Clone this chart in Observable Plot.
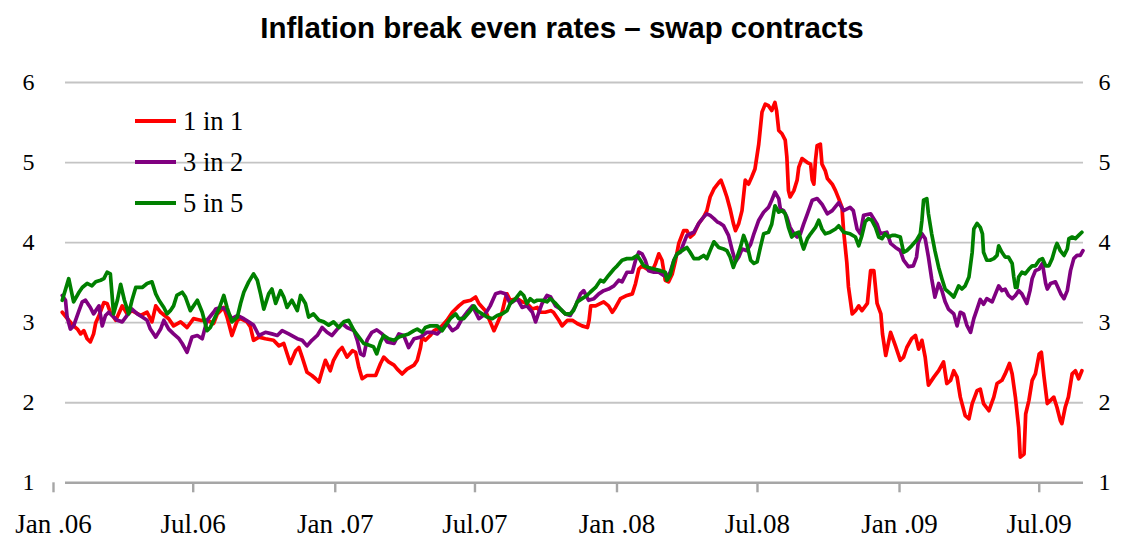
<!DOCTYPE html>
<html>
<head>
<meta charset="utf-8">
<script src="https://cdn.jsdelivr.net/npm/d3@7"></script>
<script src="https://cdn.jsdelivr.net/npm/@observablehq/plot@0.6"></script>
<style>
  html, body { margin: 0; padding: 0; background: #ffffff; }
  #wrap { position: relative; width: 1124px; height: 539px; overflow: hidden; }
  #title { height: 56px; display: flex; align-items: center; justify-content: center;
           font-family: "Liberation Sans", Arial, sans-serif; font-weight: bold; font-size: 29.5px; color: #000; }
  .leg { position: absolute; left: 135px; height: 30px; display: flex; align-items: center;
         font-family: "Liberation Serif", "Times New Roman", Times, "DejaVu Serif", serif; font-size: 26.5px; color: #000; }
  .leg span.sw { display: inline-block; width: 41px; height: 4px; margin-right: 7px; }
  #chart svg { display: block; overflow: visible; }
  #chart svg text { font-family: "Liberation Serif", "Times New Roman", Times, "DejaVu Serif", serif; }
</style>
</head>
<body>
<div id="wrap">
  <div id="title"></div>
  <div id="chart"></div>
  <div id="legend"></div>
</div>
<script>
// ---- data (week offset from 1 Jan 2006, value in %) ----
const titleText = "Inflation break even rates \u2013 swap contracts";
const seriesNames = ["1 in 1", "3 in 2", "5 in 5"];
const seriesColors = ["#ff0000", "#800080", "#008000"];
const yTicks = [1, 2, 3, 4, 5, 6];
const xTickDates = ["2006-01-01","2006-07-01","2007-01-01","2007-07-01","2008-01-01","2008-07-01","2009-01-01","2009-07-01"];
const xTickLabels = ["Jan .06","Jul.06","Jan .07","Jul.07","Jan .08","Jul.08","Jan .09","Jul.09"];
const startDate = "2006-01-01";
const endWeek = 188.4;

const oneInOne = [
[-0.6,3.13],[0.6,3.03],[1.5,2.96],[2.2,2.92],[2.8,2.86],[3.4,2.90],[4.0,2.80],[4.6,2.76],[5.2,2.86],[5.6,3.0],[6.2,3.09],[7.1,3.25],[7.7,3.24],[8.3,3.13],[9.3,3.03],[10.5,3.21],[11.4,3.11],[12.3,3.15],[13.9,3.09],[15.1,3.13],[16.0,3.01],[16.7,3.21],[17.6,3.13],[19.1,3.05],[20.0,2.96],[21.3,3.01],[22.5,2.94],[23.7,3.05],[25.0,3.03],[26.2,3.03],[27.4,2.99],[28.1,3.11],[29.3,3.19],[29.9,3.07],[30.8,2.84],[31.8,3.03],[32.4,3.05],[33.6,3.01],[34.2,2.95],[34.8,2.78],[35.8,2.82],[37.0,2.80],[38.5,2.78],[39.5,2.71],[40.4,2.74],[41.6,2.49],[42.6,2.65],[43.2,2.69],[43.8,2.57],[44.7,2.38],[45.6,2.34],[46.3,2.30],[46.9,2.26],[47.5,2.40],[48.1,2.53],[49.0,2.40],[49.6,2.53],[50.6,2.65],[51.2,2.69],[52.1,2.57],[53.1,2.65],[53.7,2.63],[54.3,2.44],[54.9,2.30],[55.8,2.34],[57.4,2.34],[58.3,2.49],[58.9,2.57],[59.8,2.51],[60.8,2.47],[61.4,2.42],[62.3,2.36],[63.2,2.42],[64.5,2.47],[65.1,2.53],[65.7,2.69],[66.0,2.82],[66.6,2.78],[67.5,2.84],[68.2,2.90],[69.4,2.94],[70.6,3.03],[71.6,3.13],[72.8,3.21],[73.7,3.26],[75.0,3.28],[75.9,3.32],[76.5,3.24],[77.7,3.15],[78.6,3.01],[79.3,2.90],[79.9,2.99],[80.8,3.13],[81.4,3.30],[81.7,3.36],[82.3,3.28],[83.6,3.30],[84.5,3.26],[85.4,3.24],[86.4,3.17],[87.3,3.19],[87.9,3.13],[88.8,3.13],[89.8,3.15],[90.3,3.13],[91.3,3.03],[91.9,2.96],[92.9,3.03],[93.8,3.03],[94.7,2.99],[95.6,2.96],[96.6,2.94],[96.9,3.03],[97.2,3.21],[98.1,3.21],[99.6,3.26],[100.5,3.21],[101.2,3.13],[101.8,3.19],[102.7,3.30],[103.9,3.34],[104.9,3.36],[105.5,3.49],[106.1,3.67],[106.7,3.71],[107.6,3.67],[108.6,3.65],[109.2,3.74],[109.8,3.86],[110.4,3.78],[111.0,3.53],[111.6,3.51],[112.3,3.61],[112.9,3.78],[113.5,3.99],[114.4,4.15],[115.0,4.15],[115.6,4.07],[116.3,4.11],[117.2,4.24],[118.1,4.32],[118.7,4.40],[119.3,4.57],[120.0,4.67],[120.9,4.75],[121.3,4.78],[121.8,4.69],[122.4,4.57],[123.0,4.42],[123.6,4.24],[124.0,4.15],[124.6,4.24],[125.2,4.40],[125.8,4.78],[126.4,4.73],[127.0,4.82],[127.6,4.92],[128.3,5.23],[128.9,5.63],[129.5,5.73],[130.1,5.71],[130.7,5.65],[131.3,5.75],[131.6,5.65],[132.0,5.40],[132.6,5.36],[133.2,5.28],[133.5,5.07],[133.8,4.65],[134.1,4.57],[134.8,4.65],[135.4,4.78],[135.7,4.94],[136.3,5.05],[137.3,5.00],[137.9,4.98],[138.2,4.78],[138.5,4.73],[138.8,5.03],[139.1,5.21],[139.7,5.23],[140.0,4.98],[140.6,4.90],[141.0,4.80],[141.9,4.73],[142.5,4.65],[143.1,4.55],[143.7,4.44],[144.0,4.15],[144.6,3.75],[144.9,3.45],[145.6,3.11],[146.2,3.15],[146.8,3.21],[147.4,3.15],[148.4,3.24],[149.0,3.65],[149.6,3.65],[150.2,3.24],[150.9,3.11],[151.2,2.86],[151.8,2.59],[152.7,2.88],[153.6,2.71],[154.5,2.53],[155.1,2.57],[155.7,2.69],[156.6,2.80],[157.3,2.84],[157.9,2.67],[158.5,2.78],[159.1,2.57],[159.7,2.22],[160.7,2.32],[161.6,2.40],[162.5,2.51],[163.1,2.24],[163.8,2.28],[164.4,2.40],[165.0,2.32],[165.6,2.07],[166.5,1.84],[167.2,1.80],[167.8,1.99],[168.7,2.15],[169.3,2.17],[169.9,1.99],[170.9,1.90],[171.8,2.07],[172.4,2.24],[173.3,2.28],[173.9,2.36],[174.7,2.49],[175.2,2.36],[175.8,2.07],[176.4,1.69],[176.7,1.32],[177.4,1.36],[177.7,1.86],[178.3,2.03],[178.9,2.28],[179.5,2.36],[180.2,2.61],[180.6,2.63],[181.1,2.32],[181.7,1.99],[182.3,2.03],[182.9,2.07],[183.5,1.94],[184.1,1.78],[184.4,1.74],[185.0,1.94],[185.6,2.07],[186.3,2.36],[186.9,2.40],[187.5,2.30],[188.1,2.40]
];

const threeInTwo = [
[-0.6,3.34],[0,3.28],[0.3,3.07],[0.9,2.92],[1.5,2.96],[2.5,3.15],[3.1,3.26],[3.7,3.28],[4.6,3.19],[5.2,3.11],[6.2,3.21],[6.8,2.96],[7.4,3.09],[8.0,3.13],[8.6,3.09],[9.6,3.03],[10.5,3.01],[11.4,3.09],[12.3,3.17],[13.3,3.11],[14.2,3.07],[15.1,3.03],[15.7,2.92],[16.7,2.82],[17.6,2.92],[18.2,3.03],[19.1,2.92],[20.0,2.86],[21.0,2.80],[21.6,2.74],[22.5,2.63],[23.4,2.82],[24.4,2.84],[25.3,2.80],[26.2,3.03],[27.4,3.13],[27.8,3.17],[28.7,3.19],[29.6,3.17],[30.8,3.05],[31.8,3.09],[33.0,3.05],[33.9,3.01],[34.8,2.97],[35.8,2.84],[37.0,2.88],[38.2,2.86],[39.2,2.84],[40.1,2.90],[41.3,2.86],[42.9,2.80],[43.8,2.78],[44.7,2.71],[45.6,2.78],[46.6,2.84],[47.5,2.94],[48.4,2.88],[49.3,2.84],[50.3,2.92],[51.2,2.99],[52.1,2.94],[53.4,2.90],[54.0,2.78],[54.6,2.61],[55.2,2.59],[55.8,2.78],[56.7,2.88],[57.6,2.91],[58.6,2.86],[59.5,2.76],[60.8,2.74],[61.7,2.86],[62.6,2.84],[63.5,2.69],[64.5,2.80],[65.7,2.82],[66.9,2.88],[67.9,2.88],[68.8,2.86],[69.7,2.92],[70.6,2.99],[71.6,2.90],[72.5,2.94],[73.4,3.05],[74.3,3.13],[75.3,3.21],[75.9,3.13],[76.5,3.05],[77.7,3.11],[78.6,3.21],[79.6,3.36],[80.5,3.38],[81.4,3.36],[82.3,3.24],[83.6,3.30],[84.5,3.19],[85.4,3.21],[86.4,3.13],[87.0,3.01],[87.6,3.13],[88.2,3.24],[89.1,3.34],[89.8,3.32],[90.7,3.21],[91.6,3.17],[92.5,3.11],[93.4,3.09],[94.4,3.21],[95.3,3.36],[95.9,3.40],[96.8,3.28],[97.8,3.30],[98.7,3.36],[99.6,3.40],[100.5,3.42],[101.5,3.46],[102.4,3.53],[103.0,3.51],[103.9,3.63],[104.9,3.63],[105.5,3.78],[106.1,3.88],[106.7,3.86],[107.3,3.78],[107.9,3.65],[108.9,3.63],[109.8,3.63],[110.7,3.59],[111.3,3.57],[111.9,3.63],[112.6,3.78],[113.2,3.86],[113.8,3.88],[114.4,3.99],[115.0,4.09],[115.6,4.11],[116.3,4.13],[117.2,4.24],[118.1,4.32],[118.7,4.36],[119.3,4.34],[120.0,4.30],[120.6,4.26],[121.2,4.24],[121.8,4.21],[122.7,4.09],[123.4,3.90],[124.0,3.76],[124.6,3.82],[125.2,3.92],[126.1,3.90],[126.8,3.98],[127.4,4.11],[128.3,4.28],[129.2,4.38],[130.1,4.44],[130.7,4.53],[131.3,4.63],[132.0,4.55],[132.3,4.42],[132.9,4.40],[133.5,4.32],[134.1,4.19],[134.8,4.11],[135.4,4.07],[136.0,4.11],[136.6,4.23],[137.3,4.36],[138.2,4.53],[139.1,4.55],[140.0,4.48],[141.0,4.36],[141.9,4.40],[143.1,4.50],[144.0,4.40],[145.2,4.44],[145.8,4.40],[146.5,4.17],[147.1,4.11],[147.7,4.34],[149.0,4.36],[150.2,4.23],[150.8,4.11],[152.0,4.13],[152.7,3.99],[153.6,3.94],[154.5,3.90],[155.1,3.78],[156.0,3.70],[156.9,3.71],[157.5,3.82],[157.8,3.99],[158.5,4.11],[159.1,4.05],[159.7,3.82],[160.3,3.55],[160.9,3.32],[161.6,3.49],[162.2,3.40],[162.8,3.26],[163.4,3.17],[164.4,3.11],[165.0,2.96],[165.6,3.13],[166.2,3.11],[166.8,2.97],[167.5,2.88],[168.1,3.05],[168.7,3.17],[169.3,3.29],[169.9,3.23],[170.5,3.30],[171.5,3.26],[172.1,3.36],[172.7,3.46],[173.3,3.40],[173.9,3.42],[174.5,3.34],[175.2,3.30],[175.8,3.34],[176.4,3.40],[177.0,3.36],[177.6,3.28],[177.9,3.24],[178.5,3.40],[178.9,3.55],[179.5,3.65],[180.2,3.67],[180.8,3.74],[181.4,3.49],[181.7,3.42],[182.3,3.49],[183.2,3.51],[184.2,3.36],[184.8,3.30],[185.4,3.40],[186.0,3.65],[186.6,3.80],[187.2,3.84],[187.8,3.84],[188.3,3.90]
];

const fiveInFive = [
[-0.6,3.28],[0.6,3.55],[1.5,3.26],[2.5,3.38],[3.1,3.44],[4.0,3.49],[4.9,3.46],[5.6,3.51],[6.5,3.53],[7.1,3.55],[7.7,3.63],[8.3,3.61],[8.9,3.11],[9.6,3.28],[10.2,3.48],[10.9,3.28],[11.7,3.11],[12.3,3.28],[13.0,3.44],[14.2,3.44],[15.1,3.49],[16.0,3.51],[16.7,3.36],[17.3,3.28],[18.2,3.19],[18.8,3.11],[19.4,3.15],[20.0,3.21],[20.6,3.34],[21.6,3.38],[22.2,3.32],[23.1,3.15],[23.7,3.21],[24.4,3.28],[25.3,3.13],[26.2,2.90],[26.8,2.94],[27.4,3.03],[28.4,3.17],[29.3,3.34],[29.9,3.19],[30.8,3.01],[31.8,3.07],[32.4,3.24],[33.0,3.38],[33.9,3.51],[34.8,3.61],[35.5,3.53],[36.1,3.36],[36.7,3.17],[37.6,3.36],[38.2,3.42],[38.9,3.24],[39.8,3.40],[40.4,3.32],[41.0,3.19],[41.9,3.28],[42.9,3.15],[43.5,3.34],[44.4,3.24],[45.0,3.07],[45.9,3.11],[46.9,3.03],[47.8,3.01],[48.7,2.97],[49.6,3.01],[50.6,2.94],[51.5,3.01],[52.4,3.03],[53.4,2.90],[54.3,2.82],[55.2,2.74],[56.1,2.72],[57.0,2.70],[57.6,2.61],[58.3,2.76],[58.9,2.84],[59.8,2.80],[60.8,2.78],[61.7,2.82],[62.6,2.84],[63.5,2.86],[64.5,2.90],[65.1,2.92],[66.0,2.88],[66.6,2.94],[67.5,2.96],[68.8,2.96],[69.7,2.90],[70.3,2.96],[71.2,3.05],[72.2,3.11],[72.8,3.05],[73.7,3.05],[74.7,3.13],[75.6,3.21],[76.2,3.15],[77.1,3.11],[78.0,3.07],[79.0,3.05],[79.9,3.09],[80.8,3.11],[81.7,3.15],[82.3,3.24],[83.3,3.30],[84.2,3.38],[84.8,3.34],[85.4,3.24],[86.0,3.30],[86.7,3.26],[87.3,3.28],[88.2,3.28],[89.1,3.26],[89.7,3.30],[90.7,3.24],[91.6,3.17],[92.5,3.11],[93.4,3.11],[94.0,3.15],[94.7,3.26],[95.6,3.30],[96.5,3.34],[97.1,3.38],[98.1,3.44],[99.0,3.53],[99.6,3.51],[100.5,3.59],[101.5,3.67],[102.1,3.71],[103.0,3.78],[103.9,3.80],[104.9,3.80],[105.8,3.84],[106.4,3.78],[107.0,3.71],[107.9,3.69],[108.9,3.67],[110.1,3.65],[111.0,3.63],[111.3,3.53],[111.9,3.59],[112.6,3.78],[113.2,3.86],[114.1,3.90],[115.0,3.94],[115.6,3.88],[116.3,3.80],[117.2,3.80],[118.1,3.84],[118.7,3.80],[119.3,3.90],[120.0,4.01],[120.9,3.94],[121.8,3.92],[122.4,3.90],[123.0,3.82],[123.6,3.69],[124.2,3.80],[124.9,3.94],[125.5,4.09],[126.1,3.98],[126.8,3.78],[127.4,3.74],[128.0,3.76],[128.6,3.94],[129.2,4.11],[130.1,4.13],[130.7,4.23],[131.3,4.46],[132.0,4.38],[132.6,4.40],[133.2,4.36],[133.8,4.19],[134.4,4.07],[135.0,4.11],[135.7,4.13],[136.3,3.98],[136.6,3.92],[137.3,4.05],[137.9,4.11],[138.8,4.19],[139.4,4.28],[140.0,4.17],[140.6,4.11],[141.5,4.13],[142.5,4.17],[143.1,4.21],[144.0,4.13],[145.2,4.11],[146.2,4.07],[146.8,3.96],[147.4,4.09],[148.0,4.26],[148.6,4.30],[149.2,4.28],[149.9,4.19],[150.5,4.07],[151.1,4.05],[151.7,4.11],[152.3,4.07],[153.0,4.09],[153.6,4.09],[154.5,4.07],[155.1,3.88],[155.7,3.90],[156.6,3.96],[157.5,4.03],[158.2,4.11],[158.5,4.28],[158.8,4.53],[159.4,4.55],[159.7,4.36],[160.3,4.11],[160.9,3.90],[161.6,3.69],[162.2,3.55],[162.8,3.42],[163.8,3.36],[164.4,3.32],[165.3,3.46],[165.9,3.42],[166.5,3.46],[167.2,3.57],[167.8,3.88],[168.1,4.17],[168.7,4.24],[169.3,4.19],[169.7,4.11],[169.9,3.88],[170.5,3.78],[171.1,3.78],[171.8,3.80],[172.4,3.84],[172.7,3.96],[173.3,3.88],[173.9,3.82],[174.5,3.82],[175.2,3.74],[175.5,3.57],[175.8,3.44],[176.1,3.44],[176.4,3.57],[177.0,3.63],[177.6,3.61],[178.3,3.67],[178.9,3.71],[179.5,3.71],[180.2,3.78],[180.8,3.80],[181.4,3.71],[182.0,3.71],[182.6,3.80],[183.2,3.94],[183.5,3.99],[184.1,3.90],[184.8,3.84],[185.4,3.92],[185.7,4.05],[186.3,4.07],[186.9,4.05],[187.5,4.09],[188.1,4.13]
];

// ---- build table ----
const t0 = new Date(startDate).getTime();
const weekToDate = w => new Date(t0 + w * 7 * 864e5);
const seriesData = [oneInOne, threeInTwo, fiveInFive];
const rows = [];
seriesData.forEach((arr, k) => arr.forEach(([w, v]) => rows.push({date: weekToDate(w), value: v, series: seriesNames[k]})));
const tickDates = xTickDates.map(d => new Date(d));
const labelOf = new Map(tickDates.map((d, i) => [+d, xTickLabels[i]]));

document.getElementById("title").textContent = titleText;

const serifStack = "'Liberation Serif', 'Times New Roman', Times, 'DejaVu Serif', serif";
const chart = Plot.plot({
  width: 1124,
  height: 483,
  marginLeft: 65,
  marginRight: 41,
  marginTop: 26,
  marginBottom: 56.7,
  style: {fontFamily: serifStack, color: "#000", background: "transparent"},
  x: {type: "utc", domain: [new Date(t0), weekToDate(endWeek)]},
  y: {domain: [1, 6]},
  color: {domain: seriesNames, range: seriesColors},
  marks: [
    Plot.ruleY(yTicks.filter(v => v > 1), {stroke: "#c4c4c4", strokeWidth: 1.8}),
    Plot.axisY(yTicks, {anchor: "left", tickSize: 0, tickPadding: 31, fontSize: 24, tickFormat: d => String(d), label: null}),
    Plot.axisY(yTicks, {anchor: "right", tickSize: 0, tickPadding: 15, fontSize: 24, tickFormat: d => String(d), label: null}),
    Plot.line(rows, {x: "date", y: "value", z: "series", stroke: "series", strokeWidth: 3.7, strokeLinejoin: "round", strokeLinecap: "round"}),
    Plot.ruleY([1], {stroke: "#a6a6a6", strokeWidth: 2.6}),
    Plot.axisX(tickDates, {anchor: "bottom", tickSize: 10, tickPadding: 21, stroke: "#a6a6a6", strokeWidth: 2.4,
      fontSize: 27, dx: -12, tickFormat: d => labelOf.get(+d), label: null})
  ]
});
document.getElementById("chart").appendChild(chart);

// ---- legend ----
const legendTops = [121, 162, 203];
const legend = document.getElementById("legend");
seriesNames.forEach((name, i) => {
  const row = document.createElement("div");
  row.className = "leg";
  row.style.top = (legendTops[i] - 15) + "px";
  const sw = document.createElement("span");
  sw.className = "sw";
  sw.style.background = seriesColors[i];
  row.appendChild(sw);
  row.appendChild(document.createTextNode(name));
  legend.appendChild(row);
});
</script>
</body>
</html>
